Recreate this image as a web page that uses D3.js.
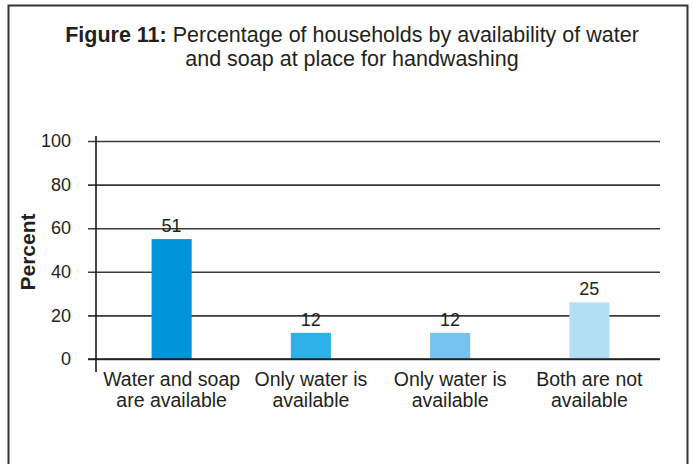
<!DOCTYPE html>
<html>
<head>
<meta charset="utf-8">
<script src="https://cdn.jsdelivr.net/npm/d3@7"></script>
<style>
  html, body { margin: 0; padding: 0; background: #fff; }
  svg { display: block; font-family: "Liberation Sans", Arial, Helvetica, sans-serif; }
</style>
</head>
<body>
<svg id="chart" width="693" height="464"></svg>
<script>
// Data
const categories = [
  ["Water and soap", "are available"],
  ["Only water is", "available"],
  ["Only water is", "available"],
  ["Both are not", "available"]
];
const barValues = [55, 12, 12, 26];          // bar heights as drawn
const valueLabels = ["51", "12", "12", "25"]; // printed data labels
const barColors = ["#0094db", "#2eb1e8", "#74c4ee", "#b3dff5"];
const yTicks = [0, 20, 40, 60, 80, 100];
const titleBold = "Figure 11:";
const titleLine1 = " Percentage of households by availability of water";
const titleLine2 = "and soap at place for handwashing";
const yAxisTitle = "Percent";

const svg = d3.select("#chart");

// frame
svg.append("rect")
  .attr("x", 8.5).attr("y", 5.5).attr("width", 679).attr("height", 480)
  .attr("fill", "none").attr("stroke", "#333").attr("stroke-width", 2);

// title
const t1 = svg.append("text").attr("x", 352).attr("y", 42)
  .attr("text-anchor", "middle").attr("font-size", 21.5).attr("fill", "#231f20");
t1.append("tspan").attr("font-weight", "bold").text(titleBold);
t1.append("tspan").text(titleLine1);
svg.append("text").attr("x", 352).attr("y", 66)
  .attr("text-anchor", "middle").attr("font-size", 21.5).attr("fill", "#231f20")
  .text(titleLine2);

const plotLeft = 96, plotRight = 660;
const y = d3.scaleLinear().domain([0, 100]).range([359, 141]);
const x = d3.scaleBand().domain(d3.range(categories.length))
  .range([102, 659]).paddingInner(0.712).paddingOuter(0.356);

// gridlines + ticks
const yAxis = d3.axisLeft(y).tickValues(yTicks)
  .tickSize(-(plotRight - plotLeft)).tickSizeOuter(0).tickPadding(25);
const gAxis = svg.append("g").attr("transform", `translate(${plotLeft},0)`).call(yAxis);
gAxis.select(".domain").remove();
gAxis.selectAll(".tick line")
  .attr("x1", -8).attr("stroke", "#3a3a3a").attr("stroke-width", 1.6);
gAxis.selectAll(".tick text")
  .attr("font-size", 18).attr("fill", "#231f20")
  .attr("font-family", "Liberation Sans, Arial, sans-serif");

// bars
svg.append("g").selectAll("rect").data(barValues).join("rect")
  .attr("x", (d, i) => x(i))
  .attr("y", d => y(d))
  .attr("width", x.bandwidth())
  .attr("height", d => y(0) - y(d))
  .attr("fill", (d, i) => barColors[i]);

// baseline on top
svg.append("line").attr("x1", plotLeft - 8).attr("x2", plotRight)
  .attr("y1", y(0)).attr("y2", y(0)).attr("stroke", "#1a1a1a").attr("stroke-width", 1.6);

// y axis line
svg.append("line").attr("x1", plotLeft).attr("x2", plotLeft)
  .attr("y1", 136).attr("y2", 372).attr("stroke", "#1a1a1a").attr("stroke-width", 1.6);

// value labels
svg.append("g").selectAll("text").data(barValues).join("text")
  .attr("x", (d, i) => x(i) + x.bandwidth() / 2)
  .attr("y", d => y(d) - 7)
  .attr("text-anchor", "middle").attr("font-size", 18).attr("fill", "#231f20")
  .text((d, i) => valueLabels[i]);

// category labels
const cat = svg.append("g").selectAll("text").data(categories).join("text")
  .attr("x", (d, i) => x(i) + x.bandwidth() / 2)
  .attr("y", 386)
  .attr("text-anchor", "middle").attr("font-size", 19.5).attr("fill", "#231f20");
cat.append("tspan").text(d => d[0]);
cat.append("tspan").attr("x", (d, i) => x(i) + x.bandwidth() / 2).attr("dy", 21).text(d => d[1]);

// y axis title
svg.append("text")
  .attr("transform", "translate(35,252) rotate(-90)")
  .attr("text-anchor", "middle").attr("font-size", 21).attr("font-weight", "bold")
  .attr("fill", "#231f20").text(yAxisTitle);
</script>
</body>
</html>
